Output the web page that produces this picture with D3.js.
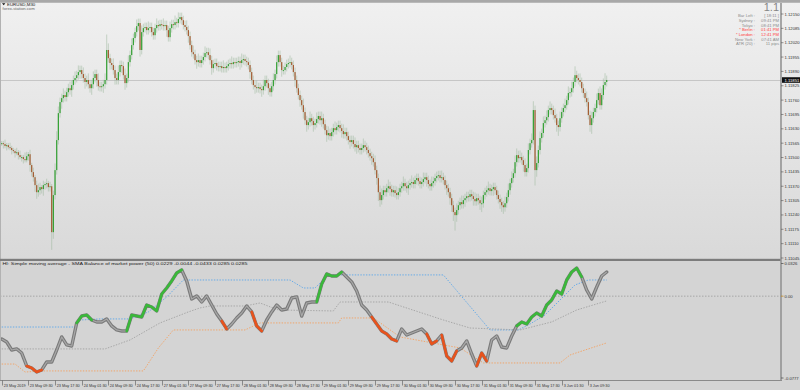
<!DOCTYPE html>
<html>
<head>
<meta charset="utf-8">
<script src="https://cdnjs.cloudflare.com/ajax/libs/d3/7.8.5/d3.min.js"></script>
<style>
html, body { margin: 0; padding: 0; background: #d4d4d4; }
svg { display: block; font-family: "Liberation Sans", Arial, sans-serif; }
</style>
</head>
<body>
<div id="chart"></div>
<script>
// ---- data: EURUSD M30, closes in points above 1.11000 ----
const firstOpen = 563;
const closes = [
  565, 561, 552, 556, 547, 543, 534, 529, 520, 524, 511, 502,
  502, 493, 488, 506, 515, 466, 434, 411, 375, 343, 352, 366,
  357, 375, 380, 384, 366, 370, 162, 330, 443, 579, 701, 751,
  769, 783, 774, 796, 814, 805, 828, 851, 860, 873, 887, 896,
  878, 860, 842, 851, 832, 814, 832, 860, 878, 851, 823, 819,
  823, 832, 851, 987, 950, 928, 919, 896, 860, 851, 887, 919,
  914, 873, 837, 860, 932, 964, 1009, 1041, 1068, 1095, 1109, 987,
  1068, 1086, 1091, 1077, 1086, 1091, 1068, 1054, 1086, 1100, 1095, 1104,
  1100, 1095, 1100, 1077, 1045, 1086, 1104, 1100, 1113, 1109, 1127, 1136,
  1122, 1100, 1091, 1077, 1050, 1009, 977, 968, 941, 932, 941, 928,
  941, 955, 973, 977, 964, 941, 905, 923, 928, 914, 910, 914,
  905, 910, 905, 914, 923, 928, 923, 932, 928, 932, 937, 928,
  941, 946, 937, 932, 919, 887, 851, 828, 819, 814, 819, 810,
  805, 823, 851, 837, 814, 796, 823, 851, 878, 932, 964, 932,
  896, 896, 910, 923, 928, 932, 919, 887, 851, 814, 783, 760,
  737, 706, 669, 647, 660, 678, 665, 647, 656, 674, 688, 669,
  678, 651, 624, 601, 611, 597, 615, 633, 624, 638, 647, 633,
  620, 606, 615, 597, 579, 570, 579, 561, 547, 556, 543, 534,
  543, 556, 547, 534, 520, 506, 497, 479, 443, 407, 343, 307,
  330, 352, 343, 361, 370, 357, 343, 352, 339, 330, 343, 361,
  370, 384, 370, 361, 375, 384, 389, 380, 398, 407, 393, 380,
  389, 402, 411, 398, 380, 370, 384, 393, 407, 416, 420, 407,
  411, 398, 375, 361, 343, 316, 284, 253, 239, 262, 284, 298,
  289, 307, 316, 325, 321, 334, 325, 312, 302, 316, 307, 293,
  293, 330, 343, 352, 361, 348, 357, 366, 352, 330, 312, 298,
  284, 275, 293, 321, 352, 384, 407, 429, 479, 511, 497, 502,
  488, 466, 434, 452, 534, 565, 579, 715, 443, 475, 534, 588,
  611, 656, 669, 683, 715, 724, 715, 692, 678, 647, 638, 678,
  706, 724, 737, 760, 792, 796, 814, 842, 873, 860, 851, 842,
  814, 792, 769, 751, 692, 647, 678, 706, 724, 760, 792, 737,
  783, 828, 842, 851
];
// wick lengths beyond the body, in pips, one digit per bar
const wickUp = "1121121112 1211321212 1232121212 1234322322 2322323223 2232232232 2237322322 3222323232 2322322232 2223222322 2322323222 2322232232 2232232222 2223222232 2222322222 2223222322 2223232222 2223222222 2322232223 2232223222 3222232222 2232222322 2222322332 2232222322 2322223222 2223222232 2222322222 2223223222 2222322232 2232222222 2232323233 2322323234 2323232323 2232232232 3232422322 2322322323 3342";
const wickDn = "1212112121 2122112322 3322232222 8322223222 2232222322 3222322322 2322232232 2232322222 2223222222 2222222223 2222222222 2232222322 2222223222 2222222222 2223222223 2232223222 3222222232 2222223223 2323222322 2232232222 2222322223 2223222222 2232234322 2223222222 2222322222 2222232222 2222222323 3473222232 2223222342 2222232223 3322222222 2223222222 7322222222 2223422222 2222222222 2223422222 2222";

// indicator (SMA balance of market power), one value every 3 bars
const indicator = [
  -0.0397, -0.0425, -0.0499, -0.0489, -0.0527, -0.0647, -0.0666, -0.0703, -0.0684, -0.0610,
  -0.0610, -0.0499, -0.0378, -0.0452, -0.0462, -0.0248, -0.0184, -0.0174, -0.0221, -0.0239,
  -0.0239, -0.0211, -0.0276, -0.0313, -0.0323, -0.0323, -0.0174, -0.0184, -0.0193, -0.0082,
  -0.0100, -0.0137, 0.0020, 0.0076, 0.0141, 0.0215, 0.0243, 0.0141, -0.0026, 0.0002,
  -0.0054, 0.0002, -0.0082, -0.0165, -0.0230, -0.0304, -0.0258, -0.0202, -0.0156, -0.0091,
  -0.0146, -0.0276, -0.0323, -0.0221, -0.0146, -0.0082, -0.0128, -0.0119, -0.0017, -0.0007,
  -0.0184, -0.0063, -0.0054, -0.0054, 0.0113, 0.0206, 0.0187, 0.0187, 0.0224, 0.0178,
  0.0132, 0.0048, -0.0082, -0.0128, -0.0193, -0.0258, -0.0323, -0.0350, -0.0397, -0.0415,
  -0.0304, -0.0360, -0.0341, -0.0323, -0.0304, -0.0350, -0.0443, -0.0415, -0.0360, -0.0554,
  -0.0601, -0.0508, -0.0480, -0.0415, -0.0536, -0.0647, -0.0527, -0.0601, -0.0406, -0.0369,
  -0.0471, -0.0480, -0.0369, -0.0276, -0.0239, -0.0258, -0.0193, -0.0156, -0.0184, -0.0082,
  -0.0035, 0.0048, 0.0020, 0.0150, 0.0224, 0.0261, 0.0178, 0.0057, -0.0026, 0.0085,
  0.0187, 0.0224
];
// runs of indicator points drawn green (above upper band) / red (below lower band)
const upRuns = [[15, 18], [25, 36], [63, 68], [103, 116]];
const downRuns = [[5, 8], [44, 45], [50, 52], [74, 79], [85, 87], [88, 91], [95, 97]];

// bands: [bar index, value]
const upperBand = [[0, -0.0286], [44, -0.0286], [47, -0.0221], [59, -0.0211], [77, -0.0211], [88, -0.0146],
  [99, -0.0007], [109, 0.0150], [173, 0.0150], [181, 0.0076], [188, 0.0076], [196, 0.0197], [265, 0.0197],
  [293, -0.0313], [310, -0.0313], [317, -0.0258], [326, -0.0174], [335, -0.0035], [344, 0.0104],
  [352, 0.0150], [363, 0.0150]];
const middleBand = [[0, -0.0489], [62, -0.0489], [77, -0.0406], [95, -0.0248], [112, -0.0146], [119, -0.0109],
  [125, -0.0091], [146, -0.0091], [155, -0.0063], [166, -0.0128], [199, -0.0137], [203, -0.0054],
  [232, -0.0054], [265, -0.0221], [281, -0.0295], [311, -0.0313], [330, -0.0239], [345, -0.0128], [363, -0.0044]];
const lowerBand = [[0, -0.0629], [8, -0.0629], [14, -0.0703], [25, -0.0693], [85, -0.0693], [94, -0.0480],
  [103, -0.0313], [146, -0.0313], [155, -0.0248], [202, -0.0248], [204, -0.0202], [223, -0.0202],
  [239, -0.0378], [275, -0.0480], [289, -0.0619], [335, -0.0619], [341, -0.0545], [350, -0.0499], [363, -0.0433]];

const priceTicks = ["1.12150", "1.12085", "1.12020", "1.11955", "1.11890", "1.11825", "1.11760", "1.11695",
  "1.11630", "1.11565", "1.11500", "1.11435", "1.11370", "1.11305", "1.11240", "1.11175", "1.11110", "1.11045"];
const timeLabels = ["23 May 2019", "23 May 09:30", "23 May 17:30", "24 May 01:30", "24 May 09:30", "24 May 17:30",
  "27 May 01:30", "27 May 09:30", "27 May 17:30", "28 May 01:30", "28 May 09:30", "28 May 17:30",
  "29 May 01:30", "29 May 09:30", "29 May 17:30", "30 May 01:30", "30 May 09:30", "30 May 17:30",
  "31 May 01:30", "31 May 09:30", "31 May 17:30", "3 Jun 01:30", "3 Jun 09:30"];
const indTicks = ["0.0326", "0.00", "-0.0777"];
const infoRows = [
  ["Bar Left :", "[ 18:11 ]", false], ["Sydney :", "09:41 PM", false], ["Tokyo :", "08:41 PM", false],
  ["* Berlin :", "01:41 PM", true], ["* London :", "12:41 PM", true], ["New York :", "07:41 AM", false],
  ["ATR (20) :", "11 pips", false]
];

// ---- layout ----
const W = 800, H = 390;
const axisX = 781;
const mainTop = 3, mainBottom = 259, indTop = 261, indBottom = 380.5;

const svg = d3.select("#chart").append("svg").attr("width", W).attr("height", H);
const defs = svg.append("defs");

const grad = defs.append("linearGradient").attr("id", "bg")
  .attr("x1", 0).attr("y1", 0).attr("x2", 0).attr("y2", 1);
grad.append("stop").attr("offset", "0%").attr("stop-color", "#f0f0f0");
grad.append("stop").attr("offset", "100%").attr("stop-color", "#d9d9d9");

defs.append("clipPath").attr("id", "clipMain").append("rect")
  .attr("x", 0).attr("y", mainTop).attr("width", axisX).attr("height", mainBottom - mainTop);
defs.append("clipPath").attr("id", "clipInd").append("rect")
  .attr("x", 0).attr("y", indTop).attr("width", axisX).attr("height", indBottom - indTop);

svg.append("rect").attr("width", W).attr("height", H).attr("fill", "#d4d4d4");
svg.append("rect").attr("x", 0).attr("y", mainTop).attr("width", W).attr("height", mainBottom - mainTop)
  .attr("fill", "url(#bg)");
svg.append("rect").attr("x", 0).attr("y", 0).attr("width", W).attr("height", 2.6).attr("fill", "#a8a8a8");

// scales
const x = d3.scaleLinear().domain([0, closes.length - 1]).range([1.7, 606.7]);
const y = d3.scaleLinear().domain([1.11045, 1.12150]).range([258, 14]);
const yi = d3.scaleLinear().domain([-0.0777, 0.0326]).range([380, 261]);

const up = wickUp.replace(/ /g, "").split("").map(Number);
const dn = wickDn.replace(/ /g, "").split("").map(Number);
const candles = closes.map((c, i) => {
  const o = i === 0 ? firstOpen : closes[i - 1];
  return {
    i: i,
    open: 1.11 + o / 1e5,
    close: 1.11 + c / 1e5,
    high: 1.11 + (Math.max(o, c) + up[i] * 10) / 1e5,
    low: 1.11 + (Math.min(o, c) - dn[i] * 10) / 1e5
  };
});

// ---- main chart ----
const main = svg.append("g").attr("clip-path", "url(#clipMain)");
const last = candles[candles.length - 1];

main.append("line")
  .attr("x1", 0).attr("x2", axisX)
  .attr("y1", Math.round(y(last.close)) + 0.5).attr("y2", Math.round(y(last.close)) + 0.5)
  .attr("stroke", "#c6c6c6").attr("stroke-width", 1);

main.selectAll(".wick").data(candles).enter().append("line")
  .attr("class", "wick")
  .attr("x1", d => x(d.i)).attr("x2", d => x(d.i))
  .attr("y1", d => y(d.high)).attr("y2", d => y(d.low))
  .attr("stroke", "#9cb89c").attr("stroke-opacity", 0.5).attr("stroke-width", 1);

main.selectAll(".body").data(candles).enter().append("rect")
  .attr("class", "body")
  .attr("x", d => x(d.i) - 0.6)
  .attr("width", 1.2)
  .attr("y", d => Math.min(y(d.open), y(d.close)))
  .attr("height", d => Math.max(1, Math.abs(y(d.open) - y(d.close))))
  .attr("fill", d => d.close >= d.open ? "#33a033" : "#a35a30");

// ---- indicator ----
const ind = svg.append("g").attr("clip-path", "url(#clipInd)");
const indPts = indicator.map((v, k) => [x(k * 3), yi(v)]);
const line = d3.line();

ind.append("line").attr("x1", 0).attr("x2", axisX)
  .attr("y1", yi(0)).attr("y2", yi(0))
  .attr("stroke", "#9c9c9c").attr("stroke-width", 0.8).attr("stroke-dasharray", "1.5,1.5");

const band = (data, color) => ind.append("path")
  .attr("d", line(data.map(d => [x(d[0]), yi(d[1])])))
  .attr("fill", "none").attr("stroke", color).attr("stroke-width", 0.9)
  .attr("stroke-dasharray", "1.4,1.4");
band(upperBand, "#5aa6ea");
band(middleBand, "#a2a2a2");
band(lowerBand, "#f4a060");

ind.append("path").attr("d", line(indPts))
  .attr("fill", "none").attr("stroke", "#7a7a7a").attr("stroke-width", 3.4)
  .attr("stroke-linejoin", "round").attr("stroke-linecap", "round");
ind.append("path").attr("d", line(indPts))
  .attr("fill", "none").attr("stroke", "#a8a8a8").attr("stroke-width", 1.2)
  .attr("stroke-linejoin", "round");

const runs = (list, color) => list.forEach(r => {
  ind.append("path").attr("d", line(indPts.slice(r[0], r[1] + 1)))
    .attr("fill", "none").attr("stroke", color).attr("stroke-width", 2.6)
    .attr("stroke-linejoin", "round").attr("stroke-linecap", "round");
});
runs(upRuns, "#3ab83a");
runs(downRuns, "#e8521c");

// ---- frame ----
svg.append("line").attr("x1", 0.5).attr("x2", 0.5).attr("y1", mainTop).attr("y2", indBottom)
  .attr("stroke", "#b2b2b2");
svg.append("rect").attr("x", 0).attr("y", 258.8).attr("width", axisX).attr("height", 2.2).attr("fill", "#7c7c7c");
svg.append("line").attr("x1", 0).attr("x2", axisX + 1).attr("y1", indBottom).attr("y2", indBottom)
  .attr("stroke", "#8a8a8a").attr("stroke-width", 1);
svg.append("line").attr("x1", axisX).attr("x2", axisX).attr("y1", mainTop).attr("y2", indBottom)
  .attr("stroke", "#939393").attr("stroke-width", 1.6);

// price axis
const pAxis = svg.append("g");
priceTicks.forEach(t => {
  const ty = y(+t);
  pAxis.append("line").attr("x1", axisX).attr("x2", axisX + 2.5).attr("y1", ty).attr("y2", ty)
    .attr("stroke", "#555").attr("stroke-width", 0.6);
  pAxis.append("text").attr("x", axisX + 3.5).attr("y", ty + 1.5).text(t)
    .attr("font-size", 4.2).attr("fill", "#333");
});
const bidY = y(last.close);
pAxis.append("rect").attr("x", axisX + 1).attr("y", bidY - 2.8).attr("width", 19).attr("height", 5.6).attr("fill", "#111");
pAxis.append("text").attr("x", axisX + 3.5).attr("y", bidY + 1.5).text(last.close.toFixed(5))
  .attr("font-size", 4.2).attr("fill", "#fff");

// indicator axis
const iAxis = svg.append("g");
[[indTicks[0], 0.0326, 263.5], [indTicks[1], 0, yi(0)], [indTicks[2], -0.0777, 378]].forEach(t => {
  iAxis.append("line").attr("x1", axisX).attr("x2", axisX + 2.5).attr("y1", t[2]).attr("y2", t[2])
    .attr("stroke", t[1] === 0 ? "#c08a20" : "#555").attr("stroke-width", 0.8);
  iAxis.append("text").attr("x", axisX + 3.5).attr("y", t[2] + 1.5).text(t[0])
    .attr("font-size", 4.2).attr("fill", "#333");
});

// time axis
const tAxis = svg.append("g");
timeLabels.forEach((t, k) => {
  const tx = Math.round(x(k * 16)) + 0.5;
  tAxis.append("line").attr("x1", tx).attr("x2", tx).attr("y1", indBottom).attr("y2", indBottom + 5)
    .attr("stroke", "#555").attr("stroke-width", 0.6);
  tAxis.append("text").attr("x", tx + 1.2).attr("y", 386.8).text(t)
    .attr("font-size", 3.8).attr("fill", "#333");
});

// ---- texts ----
svg.append("path").attr("d", "M2,3.2 L5.4,3.2 L3.7,5.2 Z").attr("fill", "#111");
svg.append("text").attr("x", 7).attr("y", 5.6).text("EURUSD,M30")
  .attr("font-size", 4.4).attr("fill", "#222");
svg.append("text").attr("x", 2.5).attr("y", 9.6).text("forex-station.com")
  .attr("font-size", 4.2).attr("fill", "#666");

svg.append("text").attr("x", 2.5).attr("y", 265.4)
  .text("HI: Simple moving average - SMA Balance of market power (50) 0.0229 -0.0044 -0.0433 0.0285 0.0285")
  .attr("font-size", 4.4).attr("fill", "#222")
  .attr("textLength", 245).attr("lengthAdjust", "spacingAndGlyphs");

svg.append("text").attr("x", 779).attr("y", 11.2).text("1.1")
  .attr("text-anchor", "end").attr("font-size", 11).attr("fill", "#858585");
infoRows.forEach((r, k) => {
  const ry = 17.4 + k * 4.65;
  const col = r[2] ? "#ff3c3c" : "#8c8c8c";
  svg.append("text").attr("x", 755).attr("y", ry).attr("text-anchor", "end").text(r[0])
    .attr("font-size", 4.2).attr("fill", col);
  svg.append("text").attr("x", 779).attr("y", ry).attr("text-anchor", "end").text(r[1])
    .attr("font-size", 4.2).attr("fill", col);
});
</script>
</body>
</html>
